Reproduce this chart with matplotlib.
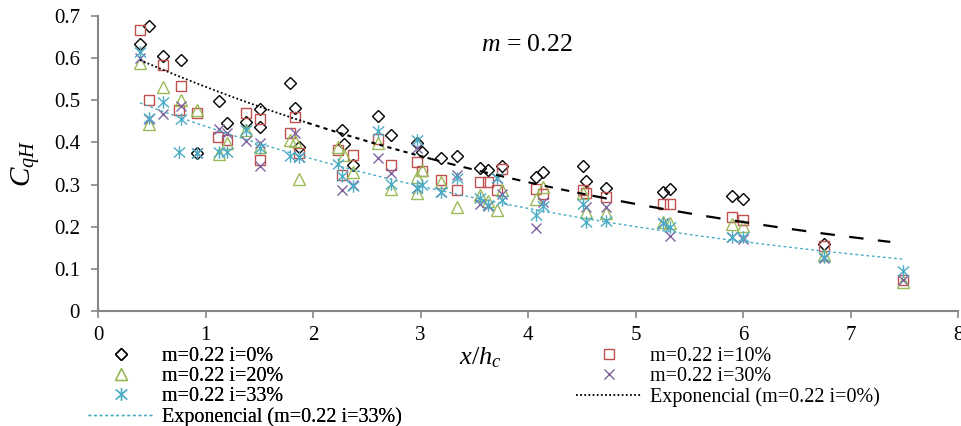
import numpy as np
import matplotlib
matplotlib.use("Agg")
import matplotlib.pyplot as plt
from matplotlib.path import Path

plt.rcParams['font.family'] = ['Liberation Serif', 'DejaVu Serif']
plt.rcParams['mathtext.fontset'] = 'custom'
plt.rcParams['mathtext.rm'] = 'Liberation Serif'
plt.rcParams['mathtext.it'] = 'Liberation Serif:italic'

# ---------------- data ----------------
x_i0 = [0.39, 0.477, 0.608, 0.769, 0.924, 1.128, 1.197, 1.377, 1.507, 1.507, 1.786, 1.833, 1.87,
        2.267, 2.288, 2.375, 2.60, 2.73, 2.964, 3.01, 3.19, 3.34, 3.55, 3.63, 3.755, 4.074, 4.14,
        4.51, 4.54, 4.73, 5.26, 5.32, 5.90, 5.997, 6.75]
y_i0 = [0.633, 0.677, 0.606, 0.596, 0.374, 0.498, 0.445, 0.449, 0.479, 0.437, 0.542, 0.481, 0.388,
        0.430, 0.397, 0.346, 0.463, 0.418, 0.399, 0.378, 0.362, 0.368, 0.339, 0.335, 0.345, 0.319, 0.330,
        0.344, 0.309, 0.291, 0.283, 0.289, 0.273, 0.265, 0.160]

x_i10 = [0.39, 0.477, 0.608, 0.769, 0.75, 0.924, 1.12, 1.197, 1.377, 1.507, 1.507, 1.786, 1.833, 1.87,
         2.236, 2.375, 2.267, 2.60, 2.73, 2.964, 3.01, 3.19, 3.34, 3.55, 3.63, 3.71, 3.755, 4.074, 4.14,
         4.51, 4.54, 4.73, 5.26, 5.32, 5.90, 5.997, 6.75, 7.49]
y_i10 = [0.667, 0.500, 0.584, 0.535, 0.477, 0.471, 0.414, 0.406, 0.469, 0.456, 0.358, 0.423, 0.461, 0.374,
         0.381, 0.370, 0.322, 0.407, 0.346, 0.354, 0.333, 0.311, 0.286, 0.307, 0.305, 0.287, 0.336, 0.289, 0.278,
         0.287, 0.279, 0.270, 0.255, 0.254, 0.222, 0.216, 0.154, 0.074]

x_i20 = [0.39, 0.477, 0.608, 0.769, 0.924, 1.128, 1.197, 1.377, 1.507, 1.786, 1.833, 1.87,
         2.236, 2.288, 2.375, 2.60, 2.73, 2.964, 2.964, 3.01, 3.19, 3.34, 3.55, 3.63, 3.71, 3.755, 4.074, 4.14,
         4.51, 4.54, 4.73, 5.26, 5.32, 5.90, 5.997, 6.75, 7.49]
y_i20 = [0.588, 0.443, 0.532, 0.500, 0.477, 0.372, 0.398, 0.430, 0.390, 0.406, 0.404, 0.313,
         0.388, 0.370, 0.330, 0.398, 0.289, 0.319, 0.279, 0.335, 0.305, 0.246, 0.275, 0.260, 0.240, 0.287, 0.265, 0.295,
         0.280, 0.236, 0.232, 0.212, 0.208, 0.206, 0.202, 0.133, 0.070]

x_i30 = [0.39, 0.477, 0.608, 0.769, 0.924, 1.128, 1.197, 1.377, 1.507, 1.507, 1.833, 1.87,
         2.267, 2.375, 2.60, 2.73, 2.964, 2.964, 3.19, 3.34, 3.55, 3.63, 3.71, 3.755, 4.074, 4.14,
         4.54, 4.73, 5.26, 5.32, 5.90, 5.997, 6.75, 7.49]
y_i30 = [0.600, 0.455, 0.467, 0.486, 0.374, 0.433, 0.422, 0.403, 0.398, 0.343, 0.423, 0.366,
         0.287, 0.298, 0.362, 0.327, 0.386, 0.291, 0.283, 0.323, 0.255, 0.248, 0.315, 0.278, 0.196, 0.259,
         0.246, 0.246, 0.210, 0.178, 0.175, 0.170, 0.125, 0.074]

x_i33 = [0.39, 0.477, 0.608, 0.769, 0.75, 0.924, 1.128, 1.197, 1.377, 1.507, 1.786, 1.87,
         2.236, 2.267, 2.375, 2.60, 2.73, 2.964, 2.964, 3.01, 3.19, 3.34, 3.55, 3.63, 3.71, 3.755, 4.074, 4.14,
         4.51, 4.54, 4.73, 5.26, 5.32, 5.90, 5.997, 6.75, 7.49]
y_i33 = [0.614, 0.459, 0.495, 0.456, 0.378, 0.374, 0.378, 0.377, 0.430, 0.386, 0.368, 0.366,
         0.350, 0.320, 0.297, 0.426, 0.301, 0.406, 0.291, 0.300, 0.283, 0.315, 0.267, 0.252, 0.316, 0.263, 0.228, 0.249,
         0.255, 0.212, 0.214, 0.210, 0.200, 0.175, 0.175, 0.127, 0.096]

# exponential trendlines y = a*exp(b*x) (coefficients and x-range)
trend_i0 = (0.640, -0.1848, 0.39, 7.37)
trend_i33 = (0.533, -0.1958, 0.39, 7.49)

labels = ['m=0.22 i=0%', 'm=0.22 i=10%', 'm=0.22 i=20%', 'm=0.22 i=30%', 'm=0.22 i=33%',
          'Exponencial (m=0.22 i=0%)', 'Exponencial (m=0.22 i=33%)']

# ---------------- styling ----------------
C_BLACK = '#000000'
C_RED = '#c0504d'
C_GREEN = '#9bbb59'
C_PURPLE = '#8064a2'
C_CYAN = '#4bacc6'

star_path = Path([(0, -0.5), (0, 0.5), (-0.45, -0.4), (0.45, 0.4), (-0.45, 0.4), (0.45, -0.4)],
                 [Path.MOVETO, Path.LINETO, Path.MOVETO, Path.LINETO, Path.MOVETO, Path.LINETO])

fig = plt.figure(figsize=(9.62, 4.26), dpi=100)
ax = fig.add_axes([98/962, 1-311/426, 860/962, 295/426])

mew = 1.0
h_i0, = ax.plot(x_i0, y_i0, ls='none', marker='D', ms=6.0, mfc='none', mec=C_BLACK, mew=mew, clip_on=False, zorder=3)
h_i10, = ax.plot(x_i10, y_i10, ls='none', marker='s', ms=7.8, mfc='none', mec=C_RED, mew=mew, clip_on=False, zorder=3)
h_i20, = ax.plot(x_i20, y_i20, ls='none', marker='^', ms=8.0, mfc='none', mec=C_GREEN, mew=mew, clip_on=False, zorder=3)
h_i30, = ax.plot(x_i30, y_i30, ls='none', marker='x', ms=7.2, mfc='none', mec=C_PURPLE, mew=mew, clip_on=False, zorder=3)
h_i33, = ax.plot(x_i33, y_i33, ls='none', marker=star_path, ms=9.0, mfc='none', mec=C_CYAN, mew=mew, clip_on=False, zorder=3)

def trend(params, x0, x1):
    a, b, _, _ = params
    xs = np.linspace(x0, x1, 200)
    return xs, a*np.exp(b*xs)

a0, b0, s0, e0 = trend_i0
xs, ys = trend(trend_i0, s0, 1.95)
h_t0, = ax.plot(xs, ys, color=C_BLACK, lw=1.3, ls=(0, (1, 1.3)), zorder=4)
xs, ys = trend(trend_i0, 1.95, 3.1)
ax.plot(xs, ys, color=C_BLACK, lw=1.5, ls=(0, (2, 2)), zorder=4)
xs, ys = trend(trend_i0, 3.1, 4.6)
ax.plot(xs, ys, color=C_BLACK, lw=1.5, ls=(0, (4, 4)), zorder=4)
xs, ys = trend(trend_i0, 4.6, e0)
ax.plot(xs, ys, color=C_BLACK, lw=1.6, ls=(0, (6.5, 6.5)), zorder=4)

a3, b3, s3, e3 = trend_i33
xs, ys = trend(trend_i33, s3, e3)
h_t33, = ax.plot(xs, ys, color=C_CYAN, lw=1.0, ls=(0, (2, 2)), zorder=4)

ax.set_xlim(0, 8)
ax.set_ylim(0, 0.7)
ax.set_xticks(range(0, 9))
ax.set_yticks(np.arange(0, 0.71, 0.1))
ax.set_yticklabels(['0', '0.1', '0.2', '0.3', '0.4', '0.5', '0.6', '0.7'])
for s in ['top', 'right']:
    ax.spines[s].set_visible(False)
for s in ['left', 'bottom']:
    ax.spines[s].set_color('#868686')
    ax.spines[s].set_linewidth(1.5)
ax.tick_params(axis='both', direction='out', length=5, width=1.2, color='#868686',
               labelsize=15, labelcolor='black')
ax.tick_params(axis='x', pad=6)
ax.tick_params(axis='y', pad=8)

ax.text(3.99, 0.631, r'$m$ = 0.22', fontsize=18.5, ha='center', va='center')

fig.text(480/962, 1-358/426, r'$x/h_c$', fontsize=19, ha='center', va='center')
fig.text(25/962, 1-163/426, r'$C_{qH}$', fontsize=21, ha='center', va='center', rotation=90)

fs = 14.5
common = dict(loc='upper left', frameon=False, fontsize=fs, handlelength=3.3, handletextpad=0.35,
              borderpad=0, borderaxespad=0, labelspacing=0.05)
leg1 = fig.legend([h_i0, h_i20, h_i33, h_t33], [labels[0], labels[2], labels[4], labels[6]],
                  bbox_to_anchor=(88/962, 1-347/426), **common)
leg2 = fig.legend([h_i10, h_i30, h_t0], [labels[1], labels[3], labels[5]],
                  bbox_to_anchor=(576/962, 1-347/426), **common)
fig.add_artist(leg1)

fig.savefig('out.png', dpi=100)
